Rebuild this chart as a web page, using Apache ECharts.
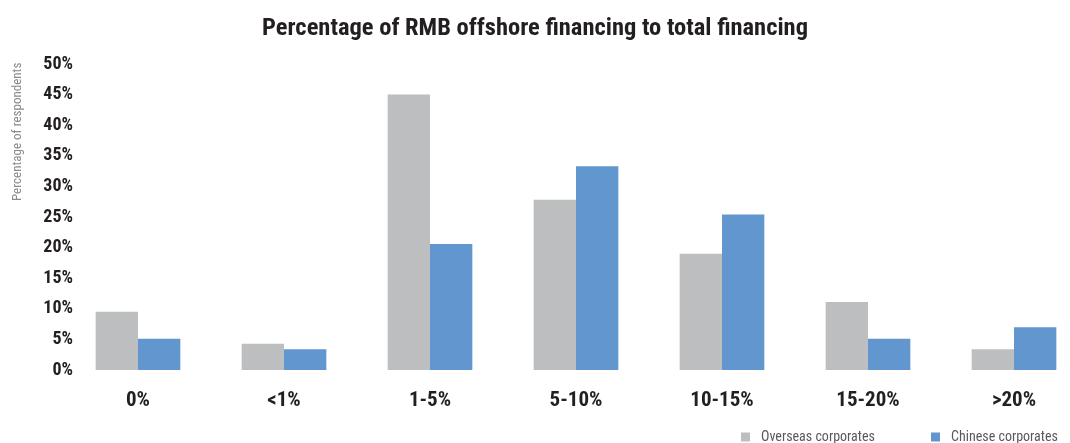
<!DOCTYPE html>
<html>
<head>
<meta charset="utf-8">
<script src="https://cdn.jsdelivr.net/npm/echarts@6/dist/echarts.min.js"></script>
<style>
  html, body { margin: 0; padding: 0; background: #fff; }
  #main { width: 1070px; height: 443px; }
</style>
</head>
<body>
<div id="main"></div>
<script>
// 数据
var categories = ['0%', '<1%', '1-5%', '5-10%', '10-15%', '15-20%', '>20%'];
var overseas = [9.5, 4.3, 45.0, 27.8, 19.0, 11.1, 3.4];
var chinese = [5.1, 3.4, 20.6, 33.3, 25.4, 5.1, 7.0];
var seriesNames = ['Overseas corporates', 'Chinese corporates'];

var cond = '"Roboto Condensed", "Liberation Sans", sans-serif';
var legendText = { fontFamily: cond, fontSize: 14, color: '#595959', padding: [0, 0, 0, 6] };

var myChart = echarts.init(document.getElementById('main'));
myChart.setOption({
    animation: false,
    title: {
        text: 'Percentage of RMB offshore financing to total financing',
        left: 'center',
        top: 11,
        textStyle: { fontFamily: cond, fontWeight: 'bold', fontSize: 24.5, color: '#231f20' }
    },
    graphic: [{
        type: 'text',
        x: 11,
        y: 201,
        rotation: Math.PI / 2,
        style: { text: 'Percentage of respondents', fontFamily: cond, fontSize: 13, fill: '#8a8a8a' }
    }],
    legend: [
        {
            left: 736, top: 425, icon: 'rect', itemWidth: 9, itemHeight: 9,
            textStyle: legendText, data: [seriesNames[0]]
        },
        {
            left: 926, top: 425, icon: 'rect', itemWidth: 9, itemHeight: 9,
            textStyle: legendText, data: [seriesNames[1]]
        }
    ],
    // 最后一组柱子超出画布右边
    grid: { left: 65, top: 64, width: 1022, height: 306, outerBoundsMode: 'none' },
    xAxis: {
        type: 'category',
        data: categories,
        axisLine: { show: false },
        axisTick: { show: false },
        axisLabel: { margin: 20, fontFamily: cond, fontWeight: 'bold', fontSize: 21, color: '#231f20' }
    },
    yAxis: {
        type: 'value',
        min: 0,
        max: 50,
        interval: 5,
        splitLine: { show: false },
        axisLine: { show: false },
        axisTick: { show: false },
        axisLabel: { margin: -8, formatter: '{value}%', fontFamily: cond, fontWeight: 'bold', fontSize: 18, color: '#231f20' }
    },
    series: [
        {
            name: seriesNames[0],
            type: 'bar',
            data: overseas,
            barGap: '0%',
            barCategoryGap: '42%',
            itemStyle: { color: '#bdbec0' }
        },
        {
            name: seriesNames[1],
            type: 'bar',
            data: chinese,
            itemStyle: { color: '#6196cf' }
        }
    ]
});
</script>
</body>
</html>
